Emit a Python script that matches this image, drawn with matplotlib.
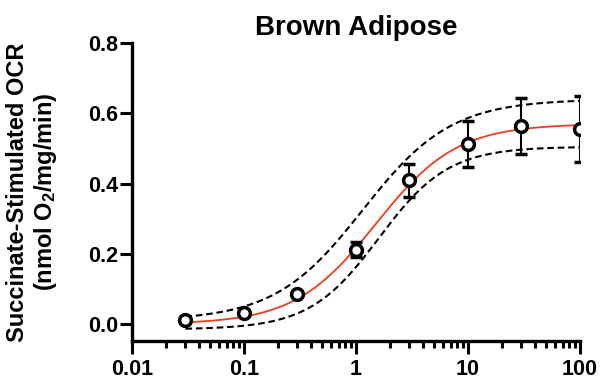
import numpy as np
import matplotlib
matplotlib.use("Agg")
import matplotlib.pyplot as plt
from matplotlib.ticker import LogLocator, FixedLocator, FuncFormatter

plt.rcParams['font.family'] = ['Liberation Sans', 'DejaVu Sans']
plt.rcParams['font.weight'] = 'bold'
plt.rcParams['mathtext.fontset'] = 'custom'
plt.rcParams['mathtext.rm'] = 'Liberation Sans:bold'
plt.rcParams['mathtext.bf'] = 'Liberation Sans:bold'
plt.rcParams['mathtext.it'] = 'Liberation Sans:bold'

# data
conc = [0.03, 0.1, 0.3, 1, 3, 10, 30, 100]
ocr = [0.013, 0.032, 0.086, 0.212, 0.409, 0.512, 0.564, 0.556]
sem = [0.0, 0.0, 0.0, 0.022, 0.046, 0.066, 0.079, 0.094]

# 4PL parameters (bottom, top, EC50, hill) for fit and confidence bands
fit_params = (0.0, 0.57, 1.5, 1.2)
upper_params = (0.01, 0.64, 1.15, 1.1)
lower_params = (-0.015, 0.505, 1.6, 1.4)


def logistic(x, p):
    bottom, top, ec50, hill = p
    return bottom + (top - bottom) / (1 + (ec50 / x) ** hill)


fig = plt.figure(figsize=(6.01, 3.83), dpi=100)
ax = fig.add_axes([132 / 601, 1 - 341 / 383, (580 - 132) / 601, (341 - 43) / 383])

xs = np.logspace(np.log10(0.03), 2, 300)
ax.plot(xs, logistic(xs, upper_params), color='black', lw=1.5, ls=(0, (3.2, 1.8)))
ax.plot(xs, logistic(xs, lower_params), color='black', lw=1.5, ls=(0, (3.2, 1.8)))
ax.plot(xs, logistic(xs, fit_params), color='#f23c1c', lw=1.3)

ax.errorbar(conc, ocr, yerr=sem, fmt='o', ms=8.5, mfc='white', mec='black',
            mew=2.5, ecolor='black', elinewidth=1.5, capsize=4.6, capthick=1.5,
            zorder=5)

ax.set_xscale('log')
ax.set_xlim(0.01, 100)
ax.set_ylim(-0.048, 0.8)
ax.set_yticks([0.0, 0.2, 0.4, 0.6, 0.8])
ax.set_yticklabels(['0.0', '0.2', '0.4', '0.6', '0.8'])
ax.xaxis.set_major_locator(FixedLocator([0.01, 0.1, 1, 10, 100]))
ax.xaxis.set_major_formatter(FuncFormatter(lambda v, _: f'{v:g}'))
ax.xaxis.set_minor_locator(LogLocator(base=10, subs=np.arange(2, 10), numticks=20))

for side in ['top', 'right']:
    ax.spines[side].set_visible(False)
for side in ['left', 'bottom']:
    ax.spines[side].set_linewidth(2.4)

ax.tick_params(axis='y', which='major', length=8.5, width=2.2, labelsize=15.5, pad=1.5)
ax.tick_params(axis='x', which='major', length=9, width=2.2, labelsize=15.5, pad=4)
ax.tick_params(axis='x', which='minor', length=5, width=2.2)
for lab in ax.get_xticklabels() + ax.get_yticklabels():
    lab.set_fontweight('bold')

ax.set_title('Brown Adipose', fontsize=20, fontweight='bold', pad=6)
ax.set_ylabel('Succinate-Stimulated OCR\n(nmol O$_2$/mg/min)', fontsize=17,
              fontweight='bold', linespacing=1.15)
ax.yaxis.set_label_coords(-0.162, 0.5)

fig.savefig('out.png', dpi=100)
